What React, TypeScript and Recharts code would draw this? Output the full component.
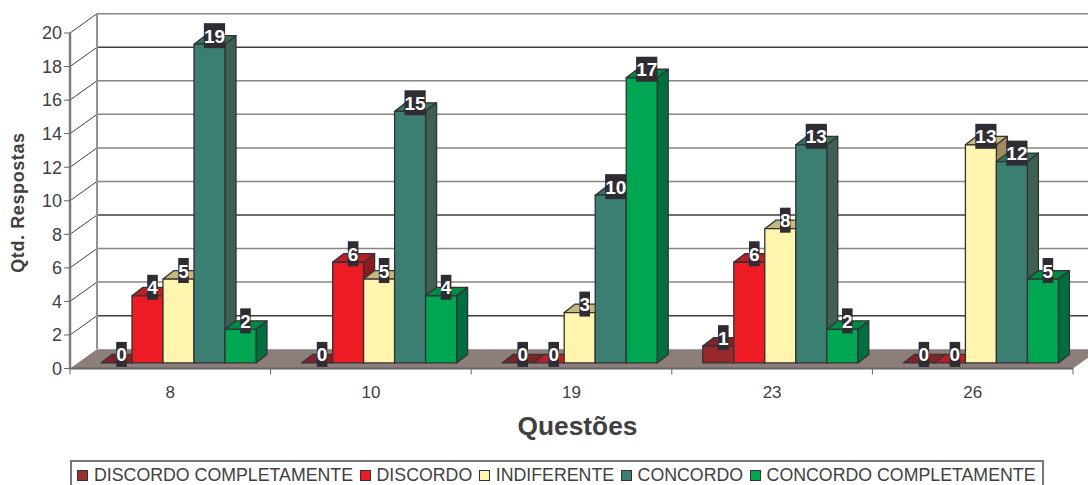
import { BarChart, Bar, XAxis, YAxis, CartesianGrid, Legend, LabelList } from 'recharts';

const categories = ['8', '10', '19', '23', '26'];
const discordoCompletamente = [0, 0, 0, 1, 0];
const discordo = [4, 6, 0, 6, 0];
const indiferente = [5, 5, 3, 8, 13];
const concordo = [19, 15, 10, 13, 12];
const concordoCompletamente = [2, 4, 17, 2, 5];
const yTicks = [0, 2, 4, 6, 8, 10, 12, 14, 16, 18, 20];

const data = categories.map((questao, i) => ({
    questao,
    discordoCompletamente: discordoCompletamente[i],
    discordo: discordo[i],
    indiferente: indiferente[i],
    concordo: concordo[i],
    concordoCompletamente: concordoCompletamente[i],
}));

const FONT = '"Liberation Sans", Arial, sans-serif';
const OUTLINE = '#333333';
const TEXT = '#404040';

// depth of the back wall and of the bars
const WALL_DX = 27;
const WALL_DY = -19.3;
const BAR_DX = 11;
const BAR_DY = -8.5;
const BAR_SHIFT_X = 8;
const BAR_SHIFT_Y = -5.6;

const GRID_GRAY = '#8a8582';
const GRID_DARK = '#3f3f3f';
const darkGridValues = [2, 8, 18];

function Wall(props: any) {
    const { x1, x2, y1, index } = props;
    const isFloor = index === 0;
    const isTop = index === yTicks.length - 1;
    const color = darkGridValues.includes(yTicks[index]) ? GRID_DARK : GRID_GRAY;
    return (
        <g>
            {isFloor && (
                <polygon
                    points={`${x1},${y1} ${x1 + WALL_DX},${y1 + WALL_DY} ${x2 + WALL_DX},${y1 + WALL_DY} ${x2},${y1}`}
                    fill="#8c7e7a"
                />
            )}
            {!isFloor && <line x1={x1} y1={y1} x2={x1 + WALL_DX} y2={y1 + WALL_DY} stroke={GRID_DARK} strokeWidth={1} />}
            {!isFloor && <line x1={x1 + WALL_DX} y1={y1 + WALL_DY} x2={x2 + WALL_DX} y2={y1 + WALL_DY} stroke={color} strokeWidth={1.5} />}
            {isTop && <line x1={x1 + WALL_DX} y1={y1 + WALL_DY} x2={x1 + WALL_DX} y2={349} stroke="#9a8f8a" strokeWidth={2} />}
        </g>
    );
}

function box3d(front: string, top: string, side: string) {
    return function Box(props: any) {
        const { x, y, width, height } = props;
        const left = x + BAR_SHIFT_X;
        const right = left + width;
        const upper = y + BAR_SHIFT_Y;
        const lower = upper + height;
        const common = { stroke: OUTLINE, strokeWidth: 1.3, strokeLinejoin: 'round' as const };
        return (
            <g>
                <polygon
                    points={`${right},${upper} ${right + BAR_DX},${upper + BAR_DY} ${right + BAR_DX},${lower + BAR_DY} ${right},${lower}`}
                    fill={side}
                    {...common}
                />
                <polygon
                    points={`${left},${upper} ${left + BAR_DX},${upper + BAR_DY} ${right + BAR_DX},${upper + BAR_DY} ${right},${upper}`}
                    fill={top}
                    {...common}
                />
                {height > 0 && <rect x={left} y={upper} width={width} height={height} fill={front} {...common} />}
            </g>
        );
    };
}

function ValueTag(props: any) {
    const { x, y, width, value } = props;
    const cx = x + BAR_SHIFT_X + width / 2 + 5;
    const cy = y + BAR_SHIFT_Y - 8.5;
    const w = String(value).length * 10.6;
    return (
        <g>
            <rect x={cx - w / 2} y={cy - 12.5} width={w} height={25} fill="#2f2d33" />
            <text x={cx} y={cy + 7} textAnchor="middle" fill="#ffffff" fontFamily={FONT} fontWeight="bold" fontSize={19}>
                {value}
            </text>
        </g>
    );
}

// ticks sit on the category boundaries, the label stays in the middle
function CategoryTick(props: any) {
    const { x, y, payload, index } = props;
    const half = 100.3;
    const top = y - 8;
    return (
        <g>
            <line x1={x - half} y1={top} x2={x - half} y2={top + 6} stroke="#666666" strokeWidth={1} />
            {index === categories.length - 1 && (
                <line x1={x + half} y1={top} x2={x + half} y2={top + 6} stroke="#666666" strokeWidth={1} />
            )}
            <text x={x} y={y + 21} textAnchor="middle" fill={TEXT} fontFamily={FONT} fontSize={17}>
                {payload.value}
            </text>
        </g>
    );
}

function LegendBox({ payload }: any) {
    return (
        <div
            style={{
                display: 'flex',
                alignItems: 'center',
                boxSizing: 'border-box',
                height: 30,
                paddingLeft: 5,
                border: '2px solid #777777',
                fontFamily: FONT,
                fontSize: 17.75,
                color: TEXT,
                whiteSpace: 'nowrap',
            }}
        >
            {(payload ?? []).map((item: any) => (
                <span key={item.value} style={{ display: 'flex', alignItems: 'center', marginRight: 6.5 }}>
                    <span
                        style={{
                            display: 'inline-block',
                            width: 9,
                            height: 9,
                            marginRight: 6,
                            background: item.color,
                            border: '1.5px solid #333333',
                        }}
                    />
                    {item.value}
                </span>
            ))}
        </div>
    );
}

export default function App() {
    return (
        <div style={{ position: 'absolute', left: 0, top: 0, width: 1088, height: 485, overflow: 'hidden', background: '#fff' }}>
            <BarChart
                width={1088}
                height={485}
                data={data}
                margin={{ top: 33, right: 15, left: 10, bottom: 26.5 }}
                barSize={31}
                barGap={0}
                style={{ fontFamily: FONT }}
            >
                <CartesianGrid horizontal={Wall} vertical={false} syncWithTicks />
                <XAxis
                    dataKey="questao"
                    height={60}
                    interval={0}
                    tick={CategoryTick}
                    tickLine={false}
                    axisLine={{ stroke: '#666666', strokeWidth: 2 }}
                    label={{
                        value: 'Questões',
                        position: 'insideBottom',
                        offset: 0,
                        dx: 6,
                        dy: 6,
                        fill: TEXT,
                        fontFamily: FONT,
                        fontWeight: 'bold',
                        fontSize: 26.3,
                    }}
                />
                <YAxis
                    width={60}
                    domain={[0, 20]}
                    ticks={yTicks}
                    interval={0}
                    tick={{ fill: TEXT, fontFamily: FONT, fontSize: 18 }}
                    tickSize={6}
                    tickLine={{ stroke: '#666666' }}
                    axisLine={{ stroke: '#807a7a', strokeWidth: 2.5 }}
                    label={{
                        value: 'Qtd. Respostas',
                        angle: -90,
                        position: 'insideLeft',
                        dx: 3,
                        dy: 72,
                        fill: TEXT,
                        fontFamily: FONT,
                        fontWeight: 'bold',
                        fontSize: 18,
                        letterSpacing: 0.6,
                    }}
                />
                <Legend
                    content={LegendBox}
                    itemSorter={null}
                    wrapperStyle={{ left: 70, bottom: -5, width: 974 }}
                />
                <Bar dataKey="discordoCompletamente" name="DISCORDO COMPLETAMENTE" fill="#993333" shape={box3d('#96282e', '#7f2328', '#5e1c20')} isAnimationActive={false}>
                    <LabelList dataKey="discordoCompletamente" content={ValueTag} />
                </Bar>
                <Bar dataKey="discordo" name="DISCORDO" fill="#ed1c24" shape={box3d('#ed1c24', '#b91f25', '#8c1c20')} isAnimationActive={false}>
                    <LabelList dataKey="discordo" content={ValueTag} />
                </Bar>
                <Bar dataKey="indiferente" name="INDIFERENTE" fill="#fff5ae" shape={box3d('#fff5ae', '#c4b87e', '#a08a5e')} isAnimationActive={false}>
                    <LabelList dataKey="indiferente" content={ValueTag} />
                </Bar>
                <Bar dataKey="concordo" name="CONCORDO" fill="#3a7f72" shape={box3d('#3a7f72', '#33705f', '#3f5f54')} isAnimationActive={false}>
                    <LabelList dataKey="concordo" content={ValueTag} />
                </Bar>
                <Bar dataKey="concordoCompletamente" name="CONCORDO COMPLETAMENTE" fill="#00a651" shape={box3d('#00a651', '#008a45', '#006f3f')} isAnimationActive={false}>
                    <LabelList dataKey="concordoCompletamente" content={ValueTag} />
                </Bar>
            </BarChart>
        </div>
    );
}
